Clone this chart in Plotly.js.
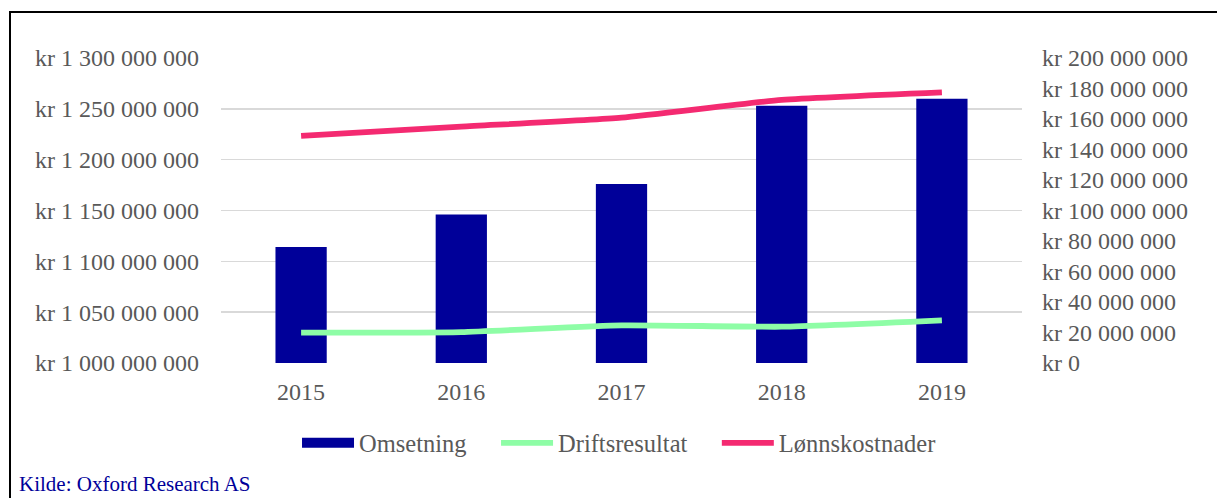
<!DOCTYPE html>
<html>
<head>
<meta charset="utf-8">
<script src="https://cdn.plot.ly/plotly-3.0.1.min.js"></script>
<style>
  html, body { margin: 0; padding: 0; width: 1217px; height: 498px; overflow: hidden; background: #fff; }
  #chart { position: absolute; left: 0; top: 0; width: 1217px; height: 498px; }
  #frame { position: absolute; left: 9px; top: 11px; width: 1230px; height: 520px; border: 2px solid #000; pointer-events: none; }
</style>
</head>
<body>
<div id="chart"></div>
<div id="frame"></div>
<script>
// Data
const years = ["2015", "2016", "2017", "2018", "2019"];
const omsetning = [1114000000, 1146000000, 1176000000, 1253000000, 1260000000];
const driftsresultat = [19900000, 20300000, 24700000, 23800000, 28000000];
const lonnskostnader = [149000000, 155000000, 160900000, 172500000, 177500000];

const leftTicks = [1000000000, 1050000000, 1100000000, 1150000000, 1200000000, 1250000000, 1300000000];
const rightTicks = [0, 20000000, 40000000, 60000000, 80000000, 100000000, 120000000, 140000000, 160000000, 180000000, 200000000];

function kr(v) {
  const s = String(Math.round(v));
  return "kr " + s.replace(/\B(?=(\d{3})+(?!\d))/g, " ");
}

const FONT = "Liberation Serif, Times New Roman, serif";
const GREY = "#595959";
const BLUE = "#000099";
const GREEN = "#8EFDA6";
const PINK = "#F42A71";
const PAD = "\u00a0\u00a0\u00a0\u00a0";

const traces = [
  {
    type: "bar", name: "Omsetning", x: years, y: omsetning, yaxis: "y",
    marker: { color: BLUE }, showlegend: false
  },
  {
    // legend swatch for the bars (wide rectangle, as in the reference); draws no marks
    type: "scatter", mode: "lines", name: "Omsetning" + PAD, x: [null], y: [null], yaxis: "y",
    line: { color: BLUE, width: 11 }, legendrank: 1, hoverinfo: "skip"
  },
  {
    type: "scatter", mode: "lines", name: "Driftsresultat" + PAD, x: years, y: driftsresultat, yaxis: "y2",
    line: { color: GREEN, width: 5.8, shape: "spline", smoothing: 0.5 }, legendrank: 2
  },
  {
    type: "scatter", mode: "lines", name: "Lønnskostnader", x: years, y: lonnskostnader, yaxis: "y2",
    line: { color: PINK, width: 5.8, shape: "spline", smoothing: 0.5 }, legendrank: 3
  }
];

const layout = {
  width: 1217, height: 498,
  margin: { l: 221, r: 195, t: 58, b: 135, pad: 0 },
  paper_bgcolor: "#fff", plot_bgcolor: "#fff",
  font: { family: FONT, size: 24, color: GREY },
  bargap: 0.68,
  showlegend: true,
  legend: {
    orientation: "h", x: 0.0949, xanchor: "left", y: -0.262, yanchor: "middle",
    font: { family: FONT, size: 24.5, color: GREY }, itemwidth: 52, traceorder: "normal",
    itemclick: false, itemdoubleclick: false
  },
  xaxis: {
    type: "category", showgrid: false, zeroline: false, showline: false, ticks: "",
    tickfont: { family: FONT, size: 24, color: GREY }, ticklabelstandoff: 12
  },
  yaxis: {
    range: [1000000000, 1300000000], tickvals: leftTicks, ticktext: leftTicks.map(kr),
    showgrid: true, gridcolor: "#D9D9D9", gridwidth: 1.5, zeroline: false, showline: false, ticks: "",
    tickfont: { family: FONT, size: 24, color: GREY }, ticklabelstandoff: 21, fixedrange: true
  },
  yaxis2: {
    overlaying: "y", side: "right", range: [0, 200000000], tickvals: rightTicks, ticktext: rightTicks.map(kr),
    showgrid: false, zeroline: false, showline: false, ticks: "",
    tickfont: { family: FONT, size: 24, color: GREY }, ticklabelstandoff: 19, fixedrange: true
  },
  annotations: [
    {
      text: "Kilde: Oxford Research AS", xref: "paper", yref: "paper",
      x: -0.255, xanchor: "left", y: -0.4426, yanchor: "bottom", showarrow: false,
      font: { family: FONT, size: 21, color: BLUE }
    }
  ]
};

Plotly.newPlot("chart", traces, layout, { displayModeBar: false, staticPlot: true });
</script>
</body>
</html>
